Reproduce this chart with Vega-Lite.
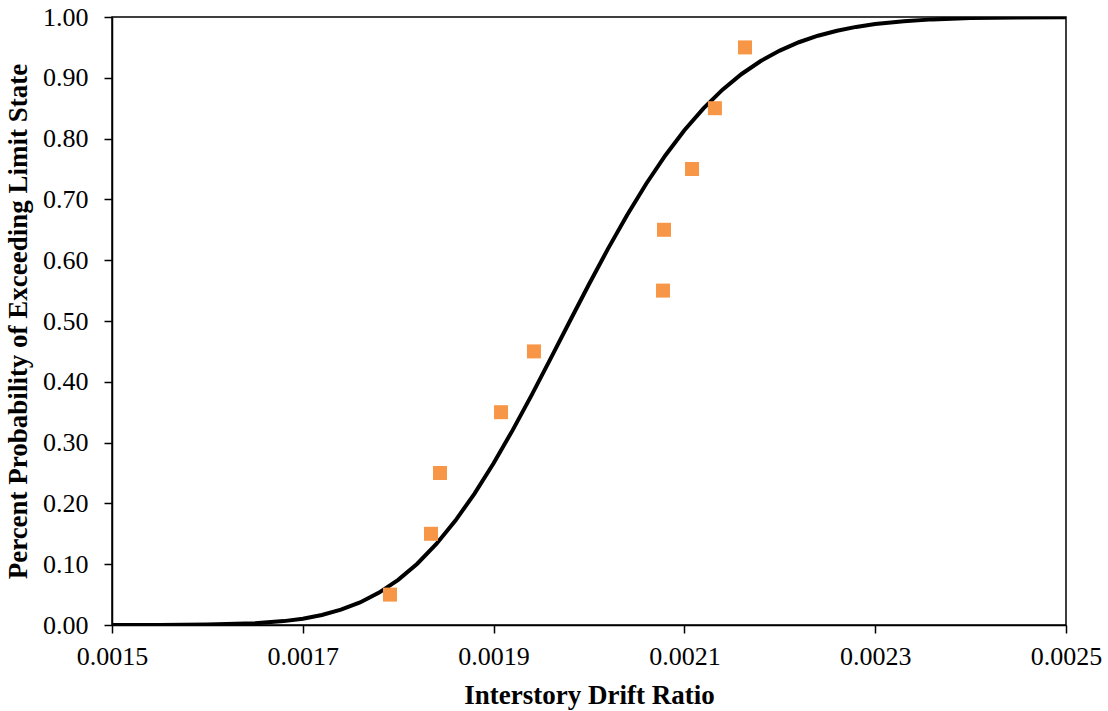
{
  "$schema": "https://vega.github.io/schema/vega-lite/v6.json",
  "width": 954,
  "height": 608,
  "autosize": {"type": "none"},
  "padding": {"left": 112, "top": 17, "right": 42, "bottom": 86},
  "background": "white",
  "datasets": {
    "curve": [
      {"drift": 0.00150, "prob": 0.00001},
      {"drift": 0.00155, "prob": 0.00010},
      {"drift": 0.00160, "prob": 0.00062},
      {"drift": 0.00165, "prob": 0.00287},
      {"drift": 0.00168, "prob": 0.00640},
      {"drift": 0.00170, "prob": 0.01044},
      {"drift": 0.00172, "prob": 0.01646},
      {"drift": 0.00174, "prob": 0.02513},
      {"drift": 0.00176, "prob": 0.03716},
      {"drift": 0.00178, "prob": 0.05333},
      {"drift": 0.00180, "prob": 0.07435},
      {"drift": 0.00182, "prob": 0.10086},
      {"drift": 0.00184, "prob": 0.13326},
      {"drift": 0.00186, "prob": 0.17174},
      {"drift": 0.00188, "prob": 0.21615},
      {"drift": 0.00190, "prob": 0.26601},
      {"drift": 0.00192, "prob": 0.32050},
      {"drift": 0.00194, "prob": 0.37855},
      {"drift": 0.00196, "prob": 0.43885},
      {"drift": 0.00198, "prob": 0.50000},
      {"drift": 0.00200, "prob": 0.56049},
      {"drift": 0.00202, "prob": 0.61906},
      {"drift": 0.00204, "prob": 0.67447},
      {"drift": 0.00206, "prob": 0.72578},
      {"drift": 0.00208, "prob": 0.77232},
      {"drift": 0.00210, "prob": 0.81367},
      {"drift": 0.00212, "prob": 0.84969},
      {"drift": 0.00214, "prob": 0.88048},
      {"drift": 0.00216, "prob": 0.90630},
      {"drift": 0.00218, "prob": 0.92758},
      {"drift": 0.00220, "prob": 0.94479},
      {"drift": 0.00222, "prob": 0.95849},
      {"drift": 0.00224, "prob": 0.96921},
      {"drift": 0.00226, "prob": 0.97746},
      {"drift": 0.00228, "prob": 0.98372},
      {"drift": 0.00230, "prob": 0.98839},
      {"drift": 0.00233, "prob": 0.99317},
      {"drift": 0.00236, "prob": 0.99609},
      {"drift": 0.00240, "prob": 0.99822},
      {"drift": 0.00245, "prob": 0.99937},
      {"drift": 0.00250, "prob": 0.99979}
    ],
    "points": [
      {"drift": 0.0017914, "prob": 0.05},
      {"drift": 0.0018344, "prob": 0.15},
      {"drift": 0.0018438, "prob": 0.25},
      {"drift": 0.0019078, "prob": 0.35},
      {"drift": 0.0019423, "prob": 0.45},
      {"drift": 0.0020776, "prob": 0.55},
      {"drift": 0.0020786, "prob": 0.65},
      {"drift": 0.0021080, "prob": 0.75},
      {"drift": 0.0021320, "prob": 0.85},
      {"drift": 0.0021635, "prob": 0.95}
    ]
  },
  "config": {
    "view": {"stroke": "black", "strokeWidth": 1.5},
    "axis": {
      "grid": false,
      "domainColor": "black",
      "domainWidth": 1.5,
      "tickColor": "black",
      "tickWidth": 1.5,
      "tickSize": 8,
      "labelFont": "Liberation Serif",
      "labelFontSize": 26,
      "labelColor": "black",
      "titleFont": "Liberation Serif",
      "titleFontSize": 27,
      "titleFontWeight": "bold",
      "titleColor": "black"
    }
  },
  "layer": [
    {
      "data": {"name": "curve"},
      "mark": {"type": "line", "color": "black", "strokeWidth": 4, "clip": true},
      "encoding": {
        "x": {
          "field": "drift", "type": "quantitative",
          "scale": {"domain": [0.0015, 0.0025], "nice": false, "zero": false},
          "axis": {
            "title": "Interstory Drift Ratio",
            "values": [0.0015, 0.0017, 0.0019, 0.0021, 0.0023, 0.0025],
            "format": ".4f",
            "labelPadding": 10,
            "titleY": 78,
            "titleBaseline": "alphabetic",
            "labelFlush": false
          }
        },
        "y": {
          "field": "prob", "type": "quantitative",
          "scale": {"domain": [0, 1], "nice": false},
          "axis": {
            "title": "Percent Probability of Exceeding Limit State",
            "values": [0, 0.1, 0.2, 0.3, 0.4, 0.5, 0.6, 0.7, 0.8, 0.9, 1.0],
            "format": ".2f",
            "labelPadding": 16,
            "titlePadding": 10,
            "labelFlush": false
          }
        }
      }
    },
    {
      "data": {"name": "points"},
      "mark": {"type": "point", "shape": "square", "filled": true, "size": 196, "color": "#F79646", "opacity": 1},
      "encoding": {
        "x": {"field": "drift", "type": "quantitative"},
        "y": {"field": "prob", "type": "quantitative"}
      }
    }
  ]
}
